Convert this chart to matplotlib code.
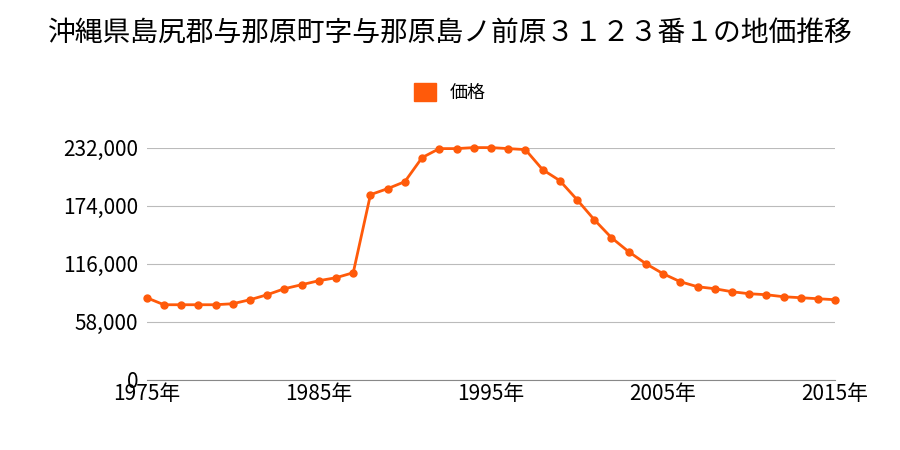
import matplotlib
matplotlib.use("Agg")
import matplotlib.pyplot as plt

plt.rcParams["font.family"] = "Noto Sans CJK JP"

years = list(range(1975, 2016))
prices = [82000, 75000, 75000, 75000, 75000, 76000, 80000, 85000, 91000, 95000,
          99000, 102000, 107000, 185000, 191000, 198000, 222000, 231000, 231000, 232000,
          232000, 231000, 230000, 210000, 199000, 180000, 160000, 142000, 128000, 116000,
          106000, 98000, 93000, 91000, 88000, 86000, 85000, 83000, 82000, 81000, 80000]
yticks = [0, 58000, 116000, 174000, 232000]
xticks = [1975, 1985, 1995, 2005, 2015]
title = "沖縄県島尻郡与那原町字与那原島ノ前原３１２３番１の地価推移"
series_name = "価格"
color = "#ff5a0a"

fig = plt.figure(figsize=(9, 4.5), dpi=100)
ax = fig.add_axes([0.163, 0.156, 0.765, 0.516])
ax.plot(years, prices, color=color, lw=2, marker="o", ms=5, label=series_name, clip_on=False)
ax.set_xlim(1975, 2015)
ax.set_ylim(0, 232000)
ax.set_yticks(yticks)
ax.set_yticklabels([f"{v:,}" for v in yticks], fontsize=15)
ax.set_xticks(xticks)
ax.set_xticklabels([f"{x}年" for x in xticks], fontsize=15)
ax.grid(axis="y", color="#bbbbbb", lw=0.8)
ax.set_axisbelow(True)
for s in ["top", "right", "left"]:
    ax.spines[s].set_visible(False)
ax.spines["bottom"].set_color("#888888")
ax.tick_params(length=0, pad=6)
ax.tick_params(axis="x", pad=2)
fig.text(0.5, 0.91, title, ha="center", fontsize=20)
fig.legend(handles=[plt.Rectangle((0, 0), 1, 1, color=color)], labels=[series_name],
           loc="center", bbox_to_anchor=(0.5, 0.795), frameon=False, fontsize=13,
           handlelength=1.2, handleheight=1.2)
fig.savefig("out.png")
